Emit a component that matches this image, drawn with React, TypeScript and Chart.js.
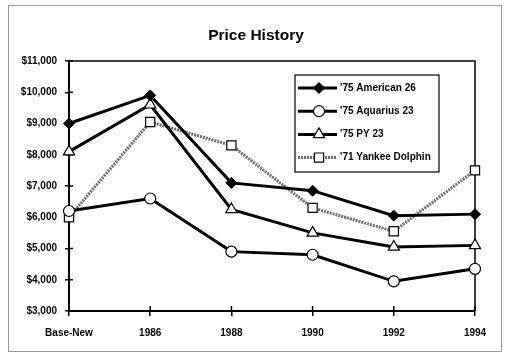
import React, { useEffect, useRef } from "react";
import { Chart, registerables } from "chart.js";
import { drawPoint } from "chart.js/helpers";

Chart.register(...registerables);

const categories = ["Base-New", "1986", "1988", "1990", "1992", "1994"];
const american26 = [9000, 9900, 7100, 6850, 6050, 6100];
const aquarius23 = [6200, 6600, 4900, 4800, 3950, 4350];
const py23 = [8100, 9600, 6250, 5500, 5050, 5100];
const yankeeDolphin = [6000, 9050, 8300, 6300, 5550, 7500];
const seriesNames = ["'75 American 26", "'75 Aquarius 23", "'75 PY 23", "'71 Yankee Dolphin"];
const yMin = 3000;
const yMax = 11000;
const yStep = 1000;

const FONT = "'Liberation Sans', Arial, sans-serif";

const frameAndTicks = {
  id: "frameAndTicks",
  beforeDatasetsDraw(chart: any) {
    const { ctx, chartArea } = chart;
    ctx.save();
    ctx.strokeStyle = "#000";
    ctx.lineWidth = 1.5;
    ctx.beginPath();
    ctx.moveTo(chartArea.left, chartArea.top);
    ctx.lineTo(chartArea.right, chartArea.top);
    ctx.lineTo(chartArea.right, chartArea.bottom);
    ctx.stroke();
    const y = chart.scales.y;
    const x = chart.scales.x;
    ctx.lineWidth = 1.5;
    y.ticks.forEach((t: any) => {
      const py = y.getPixelForValue(t.value);
      ctx.beginPath();
      ctx.moveTo(chartArea.left, py);
      ctx.lineTo(chartArea.left + 4, py);
      ctx.stroke();
    });
    categories.forEach((_c, i) => {
      const px = x.getPixelForValue(i);
      ctx.beginPath();
      ctx.moveTo(px, chartArea.bottom);
      ctx.lineTo(px, chartArea.bottom - 5);
      ctx.stroke();
    });
    ctx.restore();
  },
};

const boxLegend = {
  id: "boxLegend",
  afterDraw(chart: any) {
    const { ctx, chartArea } = chart;
    const left = chartArea.left + 226;
    const top = chartArea.top + 14;
    const w = 144;
    const h = 97;
    ctx.save();
    ctx.fillStyle = "#fff";
    ctx.fillRect(left, top, w, h);
    ctx.strokeStyle = "#000";
    ctx.lineWidth = 1.2;
    ctx.strokeRect(left, top, w, h);
    chart.data.datasets.forEach((ds: any, i: number) => {
      const cy = top + 13 + i * 23.2;
      ctx.save();
      ctx.strokeStyle = ds.borderColor;
      ctx.lineWidth = ds.borderWidth;
      ctx.setLineDash(ds.borderDash || []);
      ctx.beginPath();
      ctx.moveTo(left + 3, cy);
      ctx.lineTo(left + 42, cy);
      ctx.stroke();
      ctx.setLineDash([]);
      ctx.fillStyle = ds.pointBackgroundColor;
      ctx.strokeStyle = ds.pointBorderColor;
      ctx.lineWidth = ds.pointBorderWidth;
      drawPoint(ctx, { pointStyle: ds.pointStyle, radius: ds.pointRadius, borderWidth: ds.pointBorderWidth, rotation: 0 }, left + 24, cy);
      ctx.restore();
      ctx.fillStyle = "#000";
      ctx.font = `bold 10px ${FONT}`;
      ctx.textBaseline = "middle";
      ctx.textAlign = "left";
      ctx.fillText(ds.label, left + 45, cy);
    });
    ctx.restore();
  },
};

export default function App() {
  const ref = useRef<HTMLCanvasElement | null>(null);
  useEffect(() => {
    if (!ref.current) return;
    const chart = new Chart(ref.current, {
      type: "line",
      data: {
        labels: categories,
        datasets: [
          {
            label: seriesNames[0],
            data: american26,
            borderColor: "#000",
            borderWidth: 3,
            pointStyle: "rectRot",
            pointRadius: 5.5,
            pointBackgroundColor: "#000",
            pointBorderColor: "#000",
            pointBorderWidth: 1,
          },
          {
            label: seriesNames[1],
            data: aquarius23,
            borderColor: "#000",
            borderWidth: 3,
            pointStyle: "circle",
            pointRadius: 5.5,
            pointBackgroundColor: "#fff",
            pointBorderColor: "#000",
            pointBorderWidth: 1.2,
          },
          {
            label: seriesNames[2],
            data: py23,
            borderColor: "#000",
            borderWidth: 3,
            pointStyle: "triangle",
            pointRadius: 6.5,
            pointBackgroundColor: "#fff",
            pointBorderColor: "#000",
            pointBorderWidth: 1.2,
          },
          {
            label: seriesNames[3],
            data: yankeeDolphin,
            borderColor: "#6e6e6e",
            borderWidth: 3,
            borderDash: [2, 1],
            pointStyle: "rect",
            pointRadius: 6.5,
            pointBackgroundColor: "#fff",
            pointBorderColor: "#000",
            pointBorderWidth: 1.2,
          },
        ],
      },
      options: {
        responsive: false,
        animation: false,
        devicePixelRatio: 1,
        layout: { padding: { top: 26, right: 0, bottom: 0, left: 0 } },
        plugins: {
          legend: { display: false },
          tooltip: { enabled: false },
          title: {
            display: true,
            text: "Price History",
            color: "#000",
            font: { family: FONT, size: 15.5, weight: "bold" },
            padding: { top: 0, bottom: 16.4 },
          },
        },
        scales: {
          x: {
            offset: false,
            grid: { display: true, drawOnChartArea: false, drawTicks: true, tickLength: 5, color: "#000", lineWidth: 1.5 },
            border: { display: true, color: "#000", width: 2 },
            ticks: { color: "#000", font: { family: FONT, size: 10, weight: "bold" }, padding: 11, maxRotation: 0, autoSkip: false },
            afterFit: (s: any) => { s.height = 45; },
          },
          y: {
            min: yMin,
            max: yMax,
            grid: { display: true, drawOnChartArea: false, drawTicks: true, tickLength: 4, color: "#000", lineWidth: 1.5 },
            border: { display: true, color: "#000", width: 2 },
            ticks: {
              stepSize: yStep,
              color: "#000",
              font: { family: FONT, size: 10, weight: "bold" },
              padding: 8,
              callback: (v: any) => "$" + Number(v).toLocaleString("en-US"),
            },
            afterFit: (s: any) => { s.width = 69; },
          },
          yRight: {
            position: "right",
            display: true,
            min: yMin,
            max: yMax,
            grid: { display: false },
            border: { display: false },
            ticks: { display: false },
            afterFit: (s: any) => { s.width = 37; },
          },
        },
      },
      plugins: [frameAndTicks, boxLegend],
    });
    return () => chart.destroy();
  }, []);
  return (
    <div style={{ position: "absolute", left: 0, top: 0, width: 512, height: 356, background: "#fff" }}>
      <div style={{ position: "absolute", left: 8, top: 5, width: 494, height: 347, border: "1px solid #999", boxSizing: "border-box" }} />
      <canvas ref={ref} width={512} height={356} style={{ position: "absolute", left: 0, top: 0, width: 512, height: 356 }} />
    </div>
  );
}
